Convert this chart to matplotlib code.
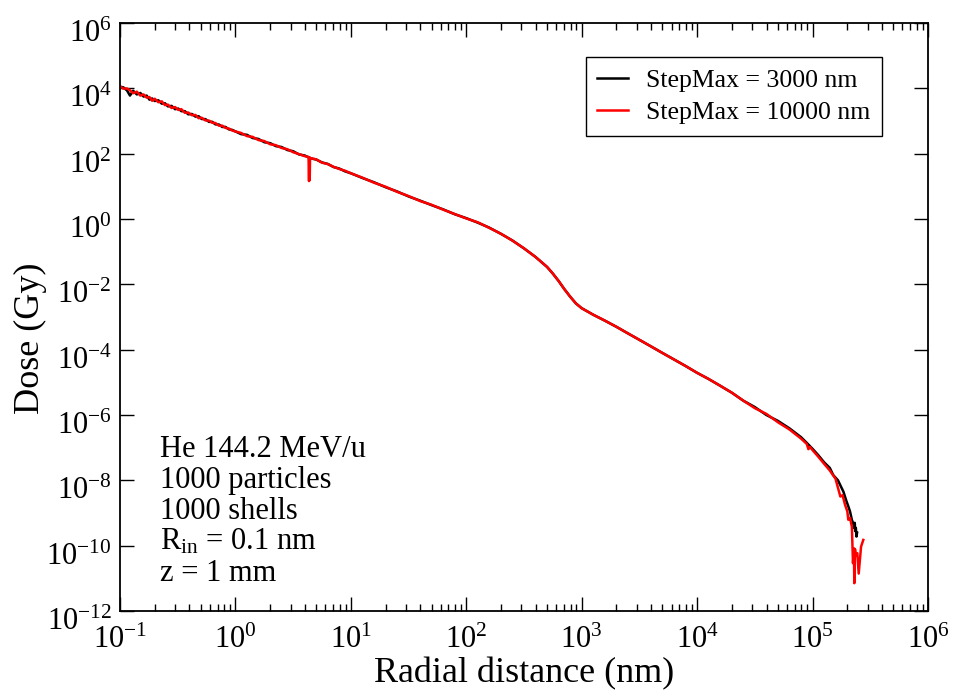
import matplotlib
matplotlib.use("Agg")
import matplotlib.pyplot as plt
import matplotlib.transforms as mtransforms
from matplotlib.ticker import LogLocator, NullLocator

plt.rcParams['font.family'] = ['Liberation Serif', 'DejaVu Serif']
plt.rcParams['mathtext.fontset'] = 'custom'
plt.rcParams['mathtext.rm'] = 'Liberation Serif'
plt.rcParams['mathtext.it'] = 'Liberation Serif:italic'
plt.rcParams['axes.unicode_minus'] = False

# radial distance (nm) and dose (Gy)
x_black = [0.10, 0.107, 0.115, 0.122, 0.13, 0.14, 0.15, 0.16, 0.17, 0.18, 0.19, 0.20,
           0.215, 0.23, 0.245, 0.26, 0.28, 0.30, 0.32, 0.34, 0.365, 0.39, 0.42, 0.45,
           0.48, 0.51, 0.55, 0.59, 0.63, 0.67, 0.72, 0.77, 0.82, 0.88, 0.94, 1.0,
           1.12, 1.26, 1.41, 1.58, 1.78, 2.0, 2.24, 2.51, 2.82, 3.16, 3.55, 3.98,
           4.47, 5.01, 5.62, 6.31, 7.08, 7.94, 8.91, 10.0,
           12.6, 15.8, 20.0, 25.1, 31.6, 39.8, 50.1, 63.1, 79.4, 100, 126, 158, 200,
           251, 316, 398, 501, 562, 631, 708, 794, 891, 1000,
           1260, 1580, 2000, 2510, 3160, 3980, 5010, 6310, 7940, 1.0e4, 1.26e4,
           1.58e4, 2.0e4, 2.51e4, 3.16e4, 3.98e4, 5.01e4, 6.31e4, 7.94e4, 8.91e4,
           1.0e5, 1.12e5,
           1.26e5, 1.41e5, 1.51e5, 1.66e5, 1.85e5, 1.95e5, 2.04e5, 2.11e5, 2.19e5,
           2.24e5, 2.29e5, 2.32e5, 2.34e5, 2.37e5, 2.40e5, 2.43e5]
y_black = [1.12e4, 1.07e4, 8.6e3, 6.0e3, 8.4e3, 6.5e3, 7.2e3, 5.6e3, 6.0e3, 4.5e3, 4.9e3, 4.1e3,
           4.3e3, 3.4e3, 3.5e3, 2.8e3, 2.9e3, 2.3e3, 2.4e3, 2.0e3, 2.0e3, 1.6e3, 1.64e3, 1.36e3,
           1.4e3, 1.15e3, 1.14e3, 940, 945, 790, 780, 655, 658, 552, 533, 479,
           396, 377, 301, 283, 224, 210, 170, 160, 129, 119, 95, 88,
           72, 66, 54, 48.5, 39, 35, 28.7, 25.1,
           18.0, 13.4, 9.4, 7.0, 4.9, 3.65, 2.65, 1.97, 1.40, 1.06, 0.77, 0.545, 0.35,
           0.22, 0.126, 0.069, 0.034, 0.0214, 0.0126, 0.0071, 0.0042, 0.0026, 0.00186,
           1.17e-3, 7.8e-4, 5.0e-4, 3.16e-4, 2.0e-4, 1.26e-4, 7.9e-5, 5.0e-5, 3.16e-5, 1.95e-5, 1.26e-5,
           7.9e-6, 4.8e-6, 2.75e-6, 1.75e-6, 1.0e-6, 6.6e-7, 3.9e-7, 2.1e-7, 1.4e-7,
           9.2e-8, 5.9e-8,
           3.55e-8, 2.4e-8, 1.45e-8, 1.0e-8, 4.5e-9, 2.5e-9, 1.6e-9, 1.12e-9, 6.2e-10,
           5.0e-10, 3.5e-10, 5.0e-10, 2.8e-10, 3.5e-10, 1.9e-10, 2.5e-10]

x_red = [0.10, 0.107, 0.115, 0.122, 0.13, 0.14, 0.15, 0.16, 0.17, 0.18, 0.19, 0.20,
         0.215, 0.23, 0.245, 0.26, 0.28, 0.30, 0.32, 0.34, 0.365, 0.39, 0.42, 0.45,
         0.48, 0.51, 0.55, 0.59, 0.63, 0.67, 0.72, 0.77, 0.82, 0.88, 0.94, 1.0,
         1.12, 1.26, 1.41, 1.58, 1.78, 2.0, 2.24, 2.51, 2.82, 3.16, 3.55, 3.98,
         4.30, 4.34, 4.37, 4.40, 4.43, 4.47, 5.01, 5.62, 6.31, 7.08, 7.94, 8.91, 10.0,
         12.6, 15.8, 20.0, 25.1, 31.6, 39.8, 50.1, 63.1, 79.4, 100, 126, 158, 200,
         251, 316, 398, 501, 562, 631, 708, 794, 891, 1000,
         1260, 1580, 2000, 2510, 3160, 3980, 5010, 6310, 7940, 1.0e4, 1.26e4,
         1.58e4, 2.0e4, 2.51e4, 3.16e4, 3.98e4, 5.01e4, 6.31e4, 7.94e4, 8.91e4,
         9.2e4, 9.5e4, 1.0e5, 1.12e5,
         1.26e5, 1.41e5, 1.58e5, 1.74e5, 1.82e5, 1.91e5, 2.0e5, 2.04e5, 2.11e5,
         2.19e5, 2.24e5, 2.28e5, 2.30e5, 2.33e5, 2.37e5, 2.44e5, 2.51e5, 2.63e5, 2.75e5]
y_red = [1.15e4, 9.8e3, 9.9e3, 8.7e3, 7.1e3, 7.9e3, 6.0e3, 6.5e3, 5.2e3, 5.4e3, 4.15e3, 4.8e3,
         3.76e3, 4.0e3, 3.07e3, 3.17e3, 2.5e3, 2.67e3, 2.18e3, 2.3e3, 1.78e3, 1.82e3, 1.5e3, 1.53e3,
         1.22e3, 1.26e3, 1.04e3, 1.03e3, 880, 867, 718, 718, 614, 585, 509, 479,
         430, 344, 327, 261, 243, 194, 182, 149, 137, 111, 97, 84,
         79, 14.5, 77, 15.5, 75, 73, 67, 53, 48, 39.5, 34, 30, 25.1,
         18.4, 13.0, 9.7, 6.8, 5.05, 3.55, 2.72, 1.93, 1.42, 1.04, 0.79, 0.535, 0.352,
         0.218, 0.127, 0.0685, 0.0342, 0.0213, 0.0127, 0.0071, 0.0042, 0.0026, 0.00185,
         1.17e-3, 7.8e-4, 5.0e-4, 3.16e-4, 2.0e-4, 1.26e-4, 7.9e-5, 5.0e-5, 3.16e-5, 1.95e-5, 1.26e-5,
         7.9e-6, 4.8e-6, 2.75e-6, 1.62e-6, 1.08e-6, 6.0e-7, 3.6e-7, 1.9e-7, 1.3e-7,
         9.0e-8, 1.05e-7, 8.4e-8, 5.3e-8,
         3.2e-8, 2.0e-8, 1.12e-8, 3.2e-9, 3.5e-9, 1.8e-9, 1.12e-9, 6.2e-10, 7.1e-10,
         3.8e-10, 2.9e-11, 8.3e-11, 7.1e-12, 7.9e-11, 5.0e-11, 5.9e-11, 1.4e-11, 9.3e-11, 1.5e-10]

labels = ['StepMax = 3000 nm', 'StepMax = 10000 nm']
info_lines = ['He 144.2 MeV/u', '1000 particles', '1000 shells',
              r'R$_{\mathrm{in}}$ = 0.1 nm', 'z = 1 mm']

fig = plt.figure(figsize=(9.55, 6.94), dpi=100)
ax = fig.add_axes([120 / 955, 1 - 611 / 694, 808 / 955, 588 / 694])

ax.plot(x_black, y_black, color='black', lw=1.8, label=labels[0])
ax.plot(x_red, y_red, color='red', lw=1.8, label=labels[1])

ax.set_xscale('log')
ax.set_yscale('log')
ax.set_xlim(1e-1, 1e6)
ax.set_ylim(1e-12, 1e6)

ax.xaxis.set_major_locator(LogLocator(base=10, numticks=20))
ax.xaxis.set_minor_locator(LogLocator(base=10, subs=range(2, 10), numticks=20))
ax.set_yticks([10.0 ** k for k in range(-12, 7, 2)])
ax.yaxis.set_minor_locator(NullLocator())

ax.tick_params(which='both', direction='in', top=True, right=True, width=1.0)
ax.tick_params(which='major', length=10, labelsize=22)
ax.tick_params(axis='x', which='major', pad=11)
ax.tick_params(axis='y', which='major', pad=6)
ax.tick_params(which='minor', length=5)
for s in ax.spines.values():
    s.set_linewidth(1.3)

# xmgrace puts the digits a bit below the tick
shift = mtransforms.ScaledTranslation(0, -8 / 100, fig.dpi_scale_trans)
for lab in ax.get_yticklabels():
    lab.set_transform(lab.get_transform() + shift)

ax.set_xlabel('Radial distance (nm)', fontsize=26)
ax.xaxis.set_label_coords(0.5, -(682 - 611) / 588)
ax.xaxis.label.set_va('baseline')
ax.set_ylabel('Dose (Gy)', fontsize=26)
ax.yaxis.set_label_coords(-(120 - 30) / 808, (611 - 338) / 588)
ax.yaxis.label.set_va('center')

leg = ax.legend(loc='upper right', bbox_to_anchor=(0.943, 0.942), fontsize=18.5,
                frameon=True, fancybox=False, framealpha=1, edgecolor='black',
                handlelength=1.2, handletextpad=0.7, borderpad=0.45, labelspacing=0.37,
                borderaxespad=0)
leg.get_frame().set_linewidth(1.0)

baselines = [457, 488, 519, 550, 581]
for line, b in zip(info_lines, baselines):
    ax.text((160 - 120) / 808, (611 - b) / 588, line, transform=ax.transAxes,
            fontsize=22, va='baseline', ha='left')

fig.savefig('out.png', dpi=100)
